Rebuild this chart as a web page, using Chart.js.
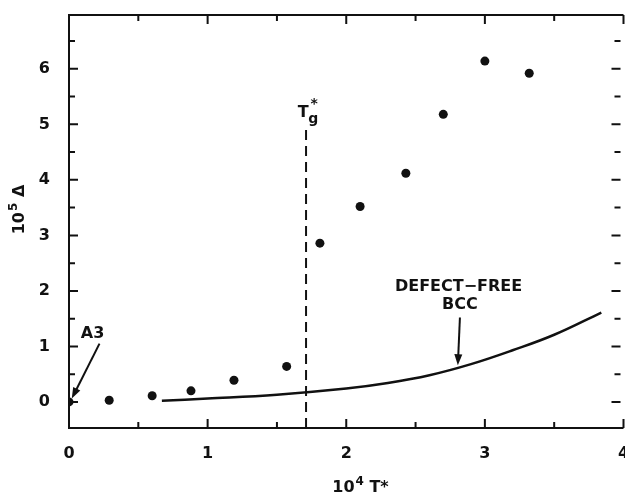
<!DOCTYPE html>
<html>
<head>
<meta charset="utf-8">
<script src="https://cdn.jsdelivr.net/npm/chart.js@4.4.1/dist/chart.umd.min.js"></script>
<style>
html, body { margin: 0; padding: 0; background: #fff; overflow: hidden; }
#wrap { width: 628px; height: 497px; }
</style>
</head>
<body>
<div id="wrap"><canvas id="chart"></canvas></div>
<script>
// measured points (10^4 T*, 10^5 delta)
const pointX = [0, 0.29, 0.60, 0.88, 1.19, 1.57, 1.81, 2.10, 2.43, 2.70, 3.00, 3.32];
const pointY = [0, 0.03, 0.11, 0.20, 0.39, 0.64, 2.86, 3.52, 4.12, 5.18, 6.14, 5.92];

// defect-free bcc curve
const curveX = [0.67, 1.0, 1.5, 2.0, 2.3, 2.6, 2.9, 3.2, 3.5, 3.84];
const curveY = [0.02, 0.06, 0.13, 0.24, 0.34, 0.48, 0.68, 0.93, 1.21, 1.61];

// Tg* marker
const tgX = [1.71, 1.71];
const tgY = [-0.47, 4.94];

const xTicks = [0, 1, 2, 3, 4];
const xMinor = [0.5, 1.5, 2.5, 3.5];
const yTicks = [0, 1, 2, 3, 4, 5, 6];
const yMinor = [0.5, 1.5, 2.5, 3.5, 4.5, 5.5, 6.5];

const FONT = '"DejaVu Sans", sans-serif';
const INK = "#111";

function pairs(xs, ys) {
    return xs.map((v, i) => ({ x: v, y: ys[i] }));
}

function arrow(ctx, x1, y1, x2, y2) {
    const ang = Math.atan2(y2 - y1, x2 - x1);
    ctx.beginPath();
    ctx.moveTo(x1, y1);
    ctx.lineTo(x2 - 8 * Math.cos(ang), y2 - 8 * Math.sin(ang));
    ctx.stroke();
    ctx.beginPath();
    ctx.moveTo(x2, y2);
    ctx.lineTo(x2 - 11 * Math.cos(ang) + 4 * Math.sin(ang), y2 - 11 * Math.sin(ang) - 4 * Math.cos(ang));
    ctx.lineTo(x2 - 11 * Math.cos(ang) - 4 * Math.sin(ang), y2 - 11 * Math.sin(ang) + 4 * Math.cos(ang));
    ctx.closePath();
    ctx.fill();
}

// text with a raised exponent, centred on cx
function supText(ctx, base, sup, rest, cx, cy) {
    ctx.font = "bold 16px " + FONT;
    const wb = ctx.measureText(base).width;
    const wr = ctx.measureText(rest).width;
    ctx.font = "bold 12px " + FONT;
    const ws = ctx.measureText(sup).width;
    let x = cx - (wb + ws + wr) / 2;
    ctx.textAlign = "left";
    ctx.textBaseline = "middle";
    ctx.font = "bold 16px " + FONT;
    ctx.fillText(base, x, cy);
    x += wb + 1;
    ctx.font = "bold 12px " + FONT;
    ctx.fillText(sup, x, cy - 6);
    x += ws;
    ctx.font = "bold 16px " + FONT;
    ctx.fillText(rest, x, cy);
}

const frame = {
    id: "frame",
    afterDatasetsDraw(chart) {
        const { ctx, chartArea: a, scales: { x, y } } = chart;
        ctx.save();
        ctx.strokeStyle = INK;
        ctx.fillStyle = INK;
        ctx.lineWidth = 2;

        // box (right edge falls off the page)
        ctx.beginPath();
        ctx.moveTo(a.right, a.top);
        ctx.lineTo(a.left, a.top);
        ctx.lineTo(a.left, a.bottom);
        ctx.lineTo(a.right, a.bottom);
        ctx.stroke();

        // inward ticks
        ctx.beginPath();
        const xt = (v, len) => {
            const p = x.getPixelForValue(v);
            ctx.moveTo(p, a.bottom); ctx.lineTo(p, a.bottom - len);
            ctx.moveTo(p, a.top); ctx.lineTo(p, a.top + len);
        };
        const yt = (v, len) => {
            const p = y.getPixelForValue(v);
            ctx.moveTo(a.left, p); ctx.lineTo(a.left + len, p);
            ctx.moveTo(a.right - 3, p); ctx.lineTo(a.right - 3 - len, p);
        };
        xTicks.forEach(v => xt(v, 9));
        xMinor.forEach(v => xt(v, 6));
        yTicks.forEach(v => yt(v, 9));
        yMinor.forEach(v => yt(v, 6));
        ctx.stroke();

        // axis titles
        supText(ctx, "10", "4", " T*", 360, 488);
        ctx.save();
        ctx.translate(20, 210);
        ctx.rotate(-Math.PI / 2);
        supText(ctx, "10", "5", " \u0394", 0, 0);
        ctx.restore();

        // Tg* label
        const tx = x.getPixelForValue(1.69);
        const ty = y.getPixelForValue(5.2);
        ctx.textAlign = "center";
        ctx.textBaseline = "middle";
        ctx.font = "bold 16px " + FONT;
        ctx.fillText("T", tx, ty);
        ctx.font = "bold 14px " + FONT;
        ctx.fillText("g", tx + 10, ty + 6);
        ctx.fillText("*", tx + 11, ty - 9);

        // A3 label and arrow
        ctx.font = "bold 16px " + FONT;
        ctx.fillText("A3", x.getPixelForValue(0.17), y.getPixelForValue(1.23));
        arrow(ctx, x.getPixelForValue(0.22), y.getPixelForValue(1.05),
              x.getPixelForValue(0.02), y.getPixelForValue(0.06));

        // defect-free bcc label and arrow
        ctx.fillText("DEFECT\u2212FREE", x.getPixelForValue(2.81), y.getPixelForValue(2.07));
        ctx.fillText("BCC", x.getPixelForValue(2.82), y.getPixelForValue(1.75));
        arrow(ctx, x.getPixelForValue(2.82), y.getPixelForValue(1.52),
              x.getPixelForValue(2.805), y.getPixelForValue(0.66));
        ctx.restore();
    }
};

const ctx = document.getElementById("chart").getContext("2d");

new Chart(ctx, {
    type: "scatter",
    data: {
        datasets: [
            {
                label: "measured",
                data: pairs(pointX, pointY),
                backgroundColor: INK,
                borderColor: INK,
                pointRadius: 4.5,
                borderWidth: 0,
            },
            {
                label: "defect-free bcc",
                data: pairs(curveX, curveY),
                showLine: true,
                borderColor: INK,
                borderWidth: 2.5,
                pointRadius: 0,
                tension: 0.4,
            },
            {
                label: "Tg",
                data: pairs(tgX, tgY),
                showLine: true,
                borderColor: INK,
                borderWidth: 2,
                borderDash: [10, 6],
                pointRadius: 0,
            },
        ]
    },
    options: {
        responsive: true,
        maintainAspectRatio: false,
        animation: false,
        layout: { padding: { top: 15, left: 0, right: 0, bottom: 0 } },
        plugins: {
            legend: { display: false },
            tooltip: { enabled: false }
        },
        scales: {
            x: {
                type: "linear",
                min: 0,
                max: 4,
                afterBuildTicks: (s) => { s.ticks = xTicks.map(v => ({ value: v })); },
                afterFit: (s) => { s.height = 69; s.paddingLeft = 0; s.paddingRight = 0; },
                grid: { display: false },
                border: { display: false },
                ticks: {
                    autoSkip: false,
                    maxRotation: 0,
                    padding: 8,
                    color: INK,
                    font: { family: FONT, size: 16, weight: "bold" }
                }
            },
            y: {
                type: "linear",
                min: -0.47,
                max: 6.97,
                afterBuildTicks: (s) => { s.ticks = yTicks.map(v => ({ value: v })); },
                afterFit: (s) => { s.width = 69; s.paddingTop = 0; s.paddingBottom = 0; },
                grid: { display: false },
                border: { display: false },
                ticks: {
                    autoSkip: false,
                    padding: 11,
                    color: INK,
                    font: { family: FONT, size: 16, weight: "bold" }
                }
            }
        }
    },
    plugins: [frame]
});
</script>
</body>
</html>
